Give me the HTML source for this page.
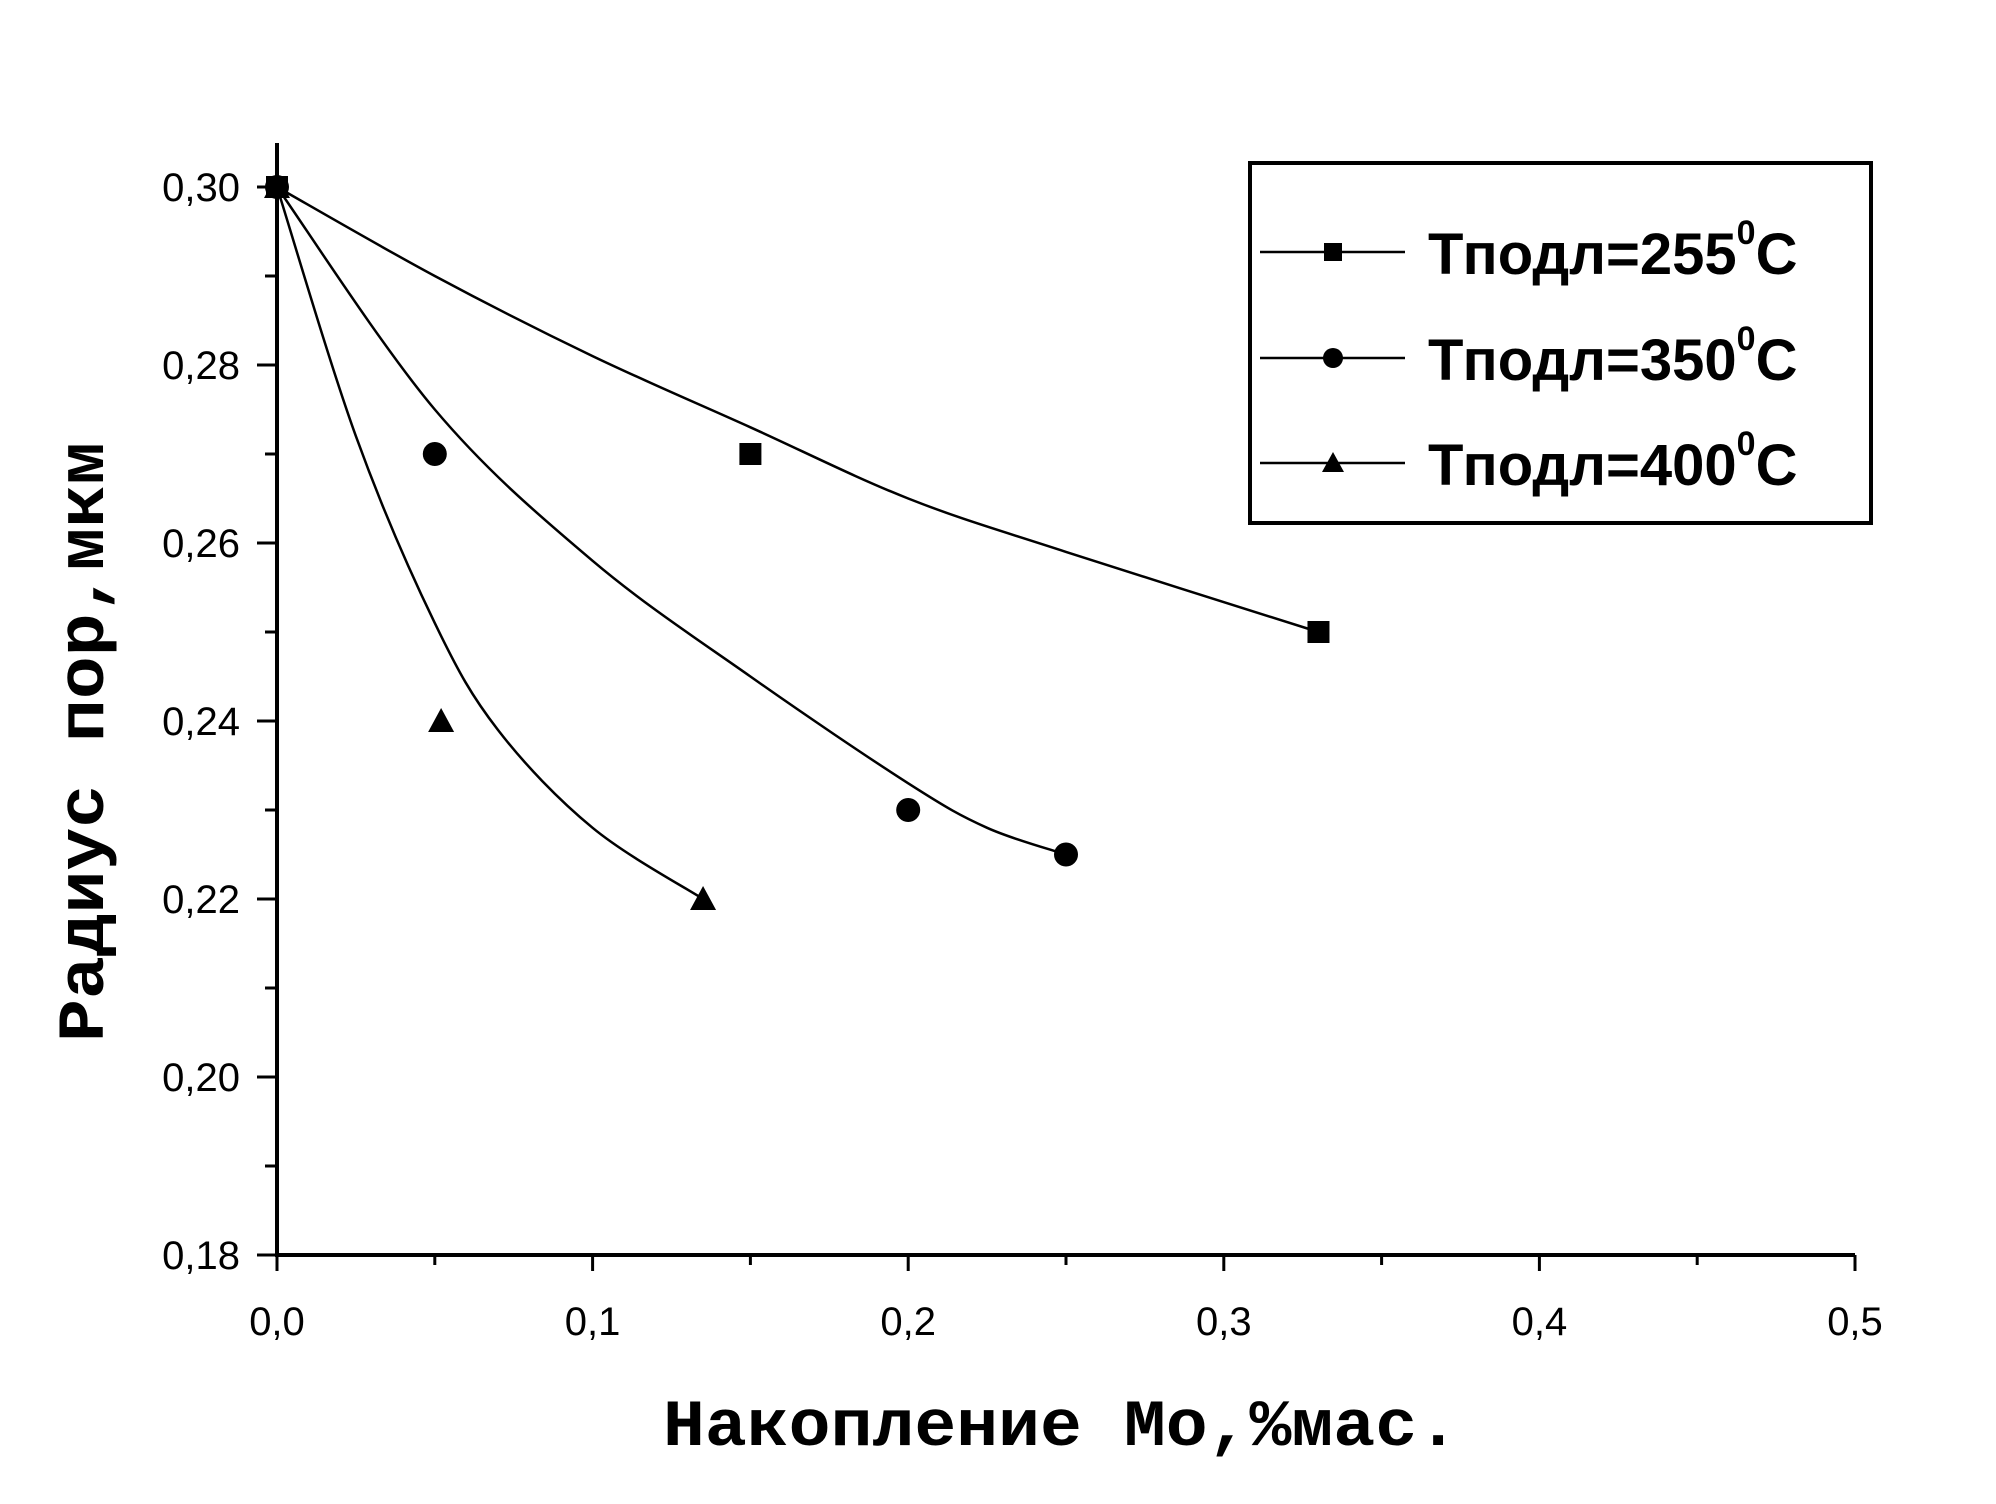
<!DOCTYPE html>
<html><head><meta charset="utf-8"><style>
html,body{margin:0;padding:0;background:#fff}
svg{display:block}
.tk{font-family:"Liberation Sans",sans-serif;font-size:40px;fill:#000}
.lg{font-family:"Liberation Sans",sans-serif;font-weight:bold;font-size:58px;fill:#000}
.tt{font-family:"Liberation Mono",monospace;font-weight:bold;font-size:66px;fill:#000}
</style></head><body>
<svg id="chart" width="1996" height="1504" viewBox="0 0 1996 1504" xmlns="http://www.w3.org/2000/svg">
<g id="axes"></g>
<g id="series"></g>
<g id="legend"></g>
</svg>
<script>
const xTicks=[0,0.1,0.2,0.3,0.4,0.5];
const xTickLabels=["0,0","0,1","0,2","0,3","0,4","0,5"];
const yTicks=[0.18,0.20,0.22,0.24,0.26,0.28,0.30];
const yTickLabels=["0,18","0,20","0,22","0,24","0,26","0,28","0,30"];
const seriesNames=["Тподл=255°С","Тподл=350°С","Тподл=400°С"];
const x255=[0,0.15,0.33], y255=[0.30,0.27,0.25];
const x350=[0,0.05,0.2,0.25], y350=[0.30,0.27,0.23,0.225];
const x400=[0,0.052,0.135], y400=[0.30,0.24,0.22];
const fitX255=[0,0.05,0.1,0.15,0.2,0.25,0.33], fitY255=[0.30,0.29,0.281,0.273,0.265,0.259,0.25];
const fitX350=[0,0.05,0.1,0.15,0.2,0.225,0.25], fitY350=[0.30,0.275,0.258,0.245,0.233,0.228,0.225];
const fitX400=[0,0.025,0.05,0.07,0.1,0.135], fitY400=[0.30,0.272,0.251,0.239,0.228,0.22];

const X0=277,X1=1855,Y0=1255,Y1=187;
const sx=v=>X0+(v-0)/(0.5-0)*(X1-X0);
const sy=v=>Y0-(v-0.18)/(0.30-0.18)*(Y0-Y1);
const NS="http://www.w3.org/2000/svg";
function mk(tag,attrs,parent){const e=document.createElementNS(NS,tag);for(const k in attrs)e.setAttribute(k,attrs[k]);parent.appendChild(e);return e;}
const axes=document.getElementById('axes');
let e;
e=mk('line',{x1:X0,y1:143,x2:X0,y2:Y0+2,stroke:'#000','stroke-width':4},axes);


e=mk('line',{x1:X0-2,y1:Y0,x2:X1,y2:Y0,stroke:'#000','stroke-width':4},axes);


xTicks.forEach((v,i)=>{
  e=mk('line',{x1:sx(v),y1:Y0,x2:sx(v),y2:Y0+16,stroke:'#000','stroke-width':3},axes);
  
  
  if(i<xTicks.length-1){
    e=mk('line',{x1:sx(v+0.05),y1:Y0,x2:sx(v+0.05),y2:Y0+10,stroke:'#000','stroke-width':3},axes);
    
    
  }
  e=mk('text',{x:sx(v),y:1335,'text-anchor':'middle',class:'tk'},axes);
  e.textContent=xTickLabels[i];
  
  
});
yTicks.forEach((v,i)=>{
  e=mk('line',{x1:X0-20,y1:sy(v),x2:X0,y2:sy(v),stroke:'#000','stroke-width':3},axes);
  
  
  if(i<yTicks.length-1){
    e=mk('line',{x1:X0-12,y1:sy(v+0.01),x2:X0,y2:sy(v+0.01),stroke:'#000','stroke-width':3},axes);
    
    
  }
  e=mk('text',{x:240,y:sy(v)+14,'text-anchor':'end',class:'tk'},axes);
  e.textContent=yTickLabels[i];
  
  
});
e=mk('text',{x:663,y:1445,class:'tt',textLength:796,lengthAdjust:'spacingAndGlyphs'},axes);
e.textContent='Накопление Мо,%мас.';


e=mk('text',{x:0,y:0,class:'tt','text-anchor':'middle',textLength:600,lengthAdjust:'spacingAndGlyphs',transform:'translate(103,742) rotate(-90)'},axes);
e.textContent='Радиус пор,мкм';



function curve(xs,ys){
  const p=xs.map((x,i)=>[sx(x),sy(ys[i])]);
  let d='M'+p[0][0]+','+p[0][1];
  for(let i=0;i<p.length-1;i++){
    const p0=p[Math.max(0,i-1)],p1=p[i],p2=p[i+1],p3=p[Math.min(p.length-1,i+2)];
    d+=' C'+(p1[0]+(p2[0]-p0[0])/6)+','+(p1[1]+(p2[1]-p0[1])/6)+' '+(p2[0]-(p3[0]-p1[0])/6)+','+(p2[1]-(p3[1]-p1[1])/6)+' '+p2[0]+','+p2[1];
  }
  return d;
}
function marker(type,cx,cy,parent,s){
  if(type==='square') return mk('rect',{x:cx-s,y:cy-s,width:2*s,height:2*s,fill:'#000'},parent);
  if(type==='circle') return mk('circle',{cx:cx,cy:cy,r:s+1,fill:'#000'},parent);
  return mk('polygon',{points:`${cx},${cy-s-2} ${cx+s+2},${cy+s} ${cx-s-2},${cy+s}`,fill:'#000'},parent);
}
const ser=document.getElementById('series');
const defs=[['255','square',x255,y255,fitX255,fitY255],['350','circle',x350,y350,fitX350,fitY350],['400','triangle',x400,y400,fitX400,fitY400]];
defs.forEach(d=>{
  const g=mk('g',{},ser);
  
  
  e=mk('path',{d:curve(d[4],d[5]),fill:'none',stroke:'#000','stroke-width':2.5},g);
  
  
  d[2].forEach((x,i)=>{
    e=marker(d[1],sx(x),sy(d[3][i]),g,11);
    
    
  });
});
const lg=document.getElementById('legend');
e=mk('rect',{x:1250,y:163,width:621,height:360,fill:'#fff',stroke:'#000','stroke-width':4},lg);


const ly=[252,358,463];
defs.forEach((d,i)=>{
  const g=mk('g',{},lg);
  
  
  mk('line',{x1:1260,y1:ly[i],x2:1405,y2:ly[i],stroke:'#000','stroke-width':2.5},g);
  marker(d[1],1333,ly[i],g,9);
  const t=mk('text',{x:1428,y:ly[i]+22,class:'lg'},g);
  const m=seriesNames[i].split('°');
  t.appendChild(document.createTextNode(m[0]));
  const ts=mk('tspan',{dy:-30,'font-size':34},t);ts.textContent='0';
  const tc=mk('tspan',{dy:30},t);tc.textContent=m[1];
});
</script>
</body></html>
